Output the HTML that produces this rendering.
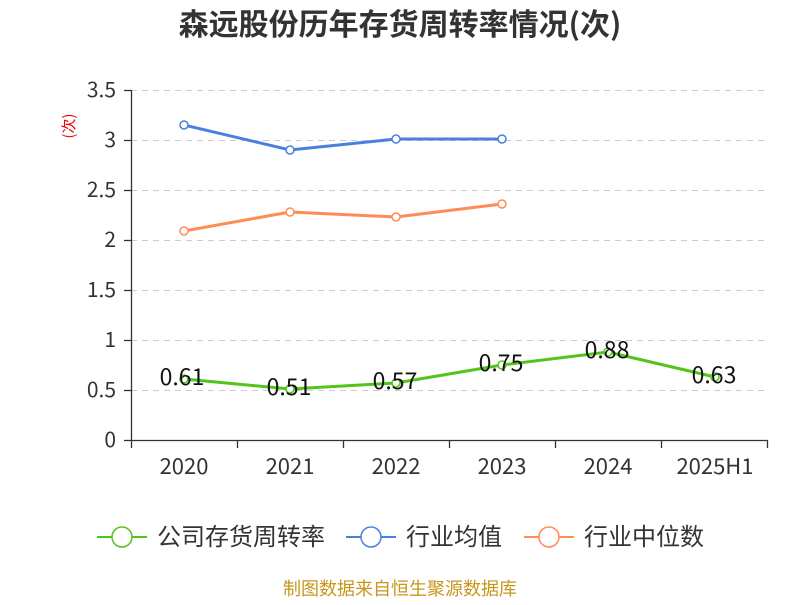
<!DOCTYPE html>
<html><head><meta charset="utf-8"><style>
body{margin:0;background:#fff;}
svg text{font-family:"Noto Sans CJK SC","Liberation Sans",sans-serif;}
</style></head><body>
<svg width="800" height="600" xmlns="http://www.w3.org/2000/svg">
<text x="400" y="35" text-anchor="middle" font-size="30" font-weight="bold" fill="#333">森远股份历年存货周转率情况(次)</text>
<g stroke="#ccc" stroke-dasharray="6,5" stroke-width="1">
<line x1="131" x2="768" y1="90.5" y2="90.5"/><line x1="131" x2="768" y1="140.5" y2="140.5"/>
<line x1="131" x2="768" y1="190.5" y2="190.5"/><line x1="131" x2="768" y1="240.5" y2="240.5"/>
<line x1="131" x2="768" y1="290.5" y2="290.5"/><line x1="131" x2="768" y1="340.5" y2="340.5"/>
<line x1="131" x2="768" y1="390.5" y2="390.5"/>
</g>
<g stroke="#333" stroke-width="1.3">
<line x1="131.5" y1="90" x2="131.5" y2="440"/>
<line x1="131" y1="440.5" x2="768" y2="440.5"/>
<line x1="124" x2="131" y1="90.5" y2="90.5"/><line x1="124" x2="131" y1="140.5" y2="140.5"/>
<line x1="124" x2="131" y1="190.5" y2="190.5"/><line x1="124" x2="131" y1="240.5" y2="240.5"/>
<line x1="124" x2="131" y1="290.5" y2="290.5"/><line x1="124" x2="131" y1="340.5" y2="340.5"/>
<line x1="124" x2="131" y1="390.5" y2="390.5"/><line x1="124" x2="131" y1="440.5" y2="440.5"/>
<line x1="131.5" x2="131.5" y1="440" y2="448"/><line x1="237.5" x2="237.5" y1="440" y2="448"/>
<line x1="343.5" x2="343.5" y1="440" y2="448"/><line x1="449.5" x2="449.5" y1="440" y2="448"/>
<line x1="555.5" x2="555.5" y1="440" y2="448"/><line x1="661.5" x2="661.5" y1="440" y2="448"/>
<line x1="767.5" x2="767.5" y1="440" y2="448"/>
</g>
<g font-size="21" fill="#333" text-anchor="end">
<text x="116" y="97">3.5</text><text x="116" y="147">3</text><text x="116" y="197">2.5</text>
<text x="116" y="247">2</text><text x="116" y="297">1.5</text><text x="116" y="347">1</text>
<text x="116" y="397">0.5</text><text x="116" y="447">0</text>
</g>
<g font-size="22" fill="#333" text-anchor="middle">
<text x="184" y="474">2020</text><text x="290" y="474">2021</text><text x="396" y="474">2022</text>
<text x="502" y="474">2023</text><text x="608" y="474">2024</text><text x="715" y="474">2025H1</text>
</g>
<text transform="translate(74,126) rotate(-90)" font-size="15" fill="#e00" text-anchor="middle">(次)</text>
<polyline points="184,125 290,150 396,139 502,139" fill="none" stroke="#4a7fe0" stroke-width="3"/>
<g fill="#fff" stroke="#4a7fe0" stroke-width="1.5">
<circle cx="184" cy="125" r="4"/><circle cx="290" cy="150" r="4"/><circle cx="396" cy="139" r="4"/><circle cx="502" cy="139" r="4"/></g>
<polyline points="184,231 290,212 396,217 502,204" fill="none" stroke="#ff8c55" stroke-width="3"/>
<g fill="#fff" stroke="#ff8c55" stroke-width="1.5">
<circle cx="184" cy="231" r="4"/><circle cx="290" cy="212" r="4"/><circle cx="396" cy="217" r="4"/><circle cx="502" cy="204" r="4"/></g>
<polyline points="184,379 290,389 396,383 502,365 608,352 715,377" fill="none" stroke="#52c41a" stroke-width="3"/>
<g fill="#fff" stroke="#52c41a" stroke-width="1.5">
<circle cx="184" cy="379" r="4"/><circle cx="290" cy="389" r="4"/><circle cx="396" cy="383" r="4"/>
<circle cx="502" cy="365" r="4"/><circle cx="608" cy="352" r="4"/><circle cx="715" cy="377" r="4"/></g>
<g font-size="23" fill="#111" text-anchor="middle">
<text x="182" y="385">0.61</text><text x="289" y="395">0.51</text><text x="395" y="389">0.57</text>
<text x="501" y="371">0.75</text><text x="607" y="358">0.88</text><text x="714" y="383">0.63</text>
</g>
<line x1="97" x2="147" y1="537" y2="537" stroke="#52c41a" stroke-width="2"/>
<circle cx="122" cy="537" r="10" fill="#fff" stroke="#52c41a" stroke-width="1.5"/>
<text x="157" y="545" font-size="24" fill="#333">公司存货周转率</text>
<line x1="346" x2="396" y1="537" y2="537" stroke="#4a7fe0" stroke-width="2"/>
<circle cx="371" cy="537" r="10" fill="#fff" stroke="#4a7fe0" stroke-width="1.5"/>
<text x="406" y="545" font-size="24" fill="#333">行业均值</text>
<line x1="524" x2="574" y1="537" y2="537" stroke="#ff8c55" stroke-width="2"/>
<circle cx="549" cy="537" r="10" fill="#fff" stroke="#ff8c55" stroke-width="1.5"/>
<text x="584" y="545" font-size="24" fill="#333">行业中位数</text>
<text x="400" y="595" text-anchor="middle" font-size="18" fill="#c8961e">制图数据来自恒生聚源数据库</text>
</svg>
</body></html>
